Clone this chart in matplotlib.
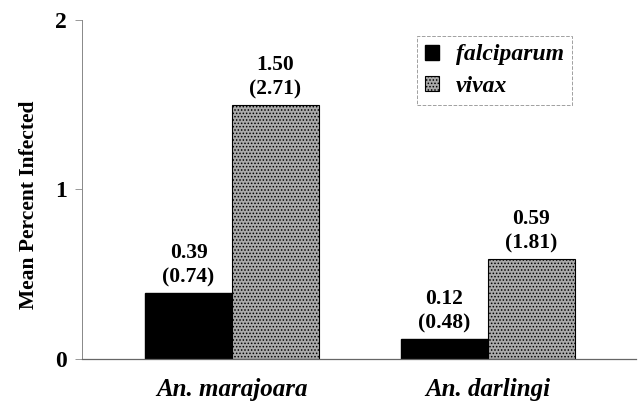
import matplotlib.pyplot as plt
import numpy as np

# Data
species = ['An. marajoara', 'An. darlingi']
falciparum = [0.39, 0.12]
falciparum_sd = [0.74, 0.48]
vivax = [1.50, 0.59]
vivax_sd = [2.71, 1.81]

plt.rcParams['font.family'] = ['Liberation Serif', 'DejaVu Serif']
plt.rcParams['hatch.color'] = '#505050'
plt.rcParams['hatch.linewidth'] = 0.7

fig, ax = plt.subplots(figsize=(6.39, 4.13), dpi=100)
fig.subplots_adjust(left=0.128, right=0.995, bottom=0.131, top=0.952)

x = np.arange(len(species))
w = 0.34
b1 = ax.bar(x - w / 2, falciparum, w, color='black', edgecolor='black',
            label='falciparum')
b2 = ax.bar(x + w / 2, vivax, w, color='#aaaaaa', edgecolor='black',
            linewidth=0.8, hatch='.....', label='vivax')

for bars, vals, sds in [(b1, falciparum, falciparum_sd), (b2, vivax, vivax_sd)]:
    for rect, v, s in zip(bars, vals, sds):
        ax.text(rect.get_x() + rect.get_width() / 2, v + 0.03,
                f'{v:.2f}\n({s:.2f})', ha='center', va='bottom',
                fontsize=15.5, fontweight='bold', linespacing=1.3)

ax.set_xlim(-0.587, 1.578)
ax.set_ylim(0, 2)
ax.set_yticks([0, 1, 2])
ax.set_xticks(x)
ax.set_xticklabels(species, fontsize=18, fontweight='bold', fontstyle='italic')
ax.tick_params(axis='x', length=0, pad=14)
ax.tick_params(axis='y', labelsize=17, length=5, width=0.6, color='#888888',
               pad=6)
for lbl in ax.get_yticklabels():
    lbl.set_fontweight('bold')
ax.set_ylabel('Mean Percent Infected', fontsize=15.5, fontweight='bold')
ax.yaxis.set_label_coords(-0.078, 0.454)

ax.spines['top'].set_visible(False)
ax.spines['right'].set_visible(False)
ax.spines['left'].set_color('#888888')
ax.spines['left'].set_linewidth(0.7)
ax.spines['bottom'].set_color('#666666')
ax.spines['bottom'].set_linewidth(0.9)

leg = ax.legend(loc='upper left', bbox_to_anchor=(0.605, 0.952),
                prop={'weight': 'bold', 'style': 'italic', 'size': 17},
                frameon=True, fancybox=False, handlelength=0.6, handleheight=0.6,
                handletextpad=0.7, borderpad=0.35, labelspacing=0.45,
                borderaxespad=0)
leg.get_frame().set_edgecolor('#888888')
leg.get_frame().set_linestyle('--')
leg.get_frame().set_linewidth(0.7)

plt.savefig('out.png', dpi=100)
